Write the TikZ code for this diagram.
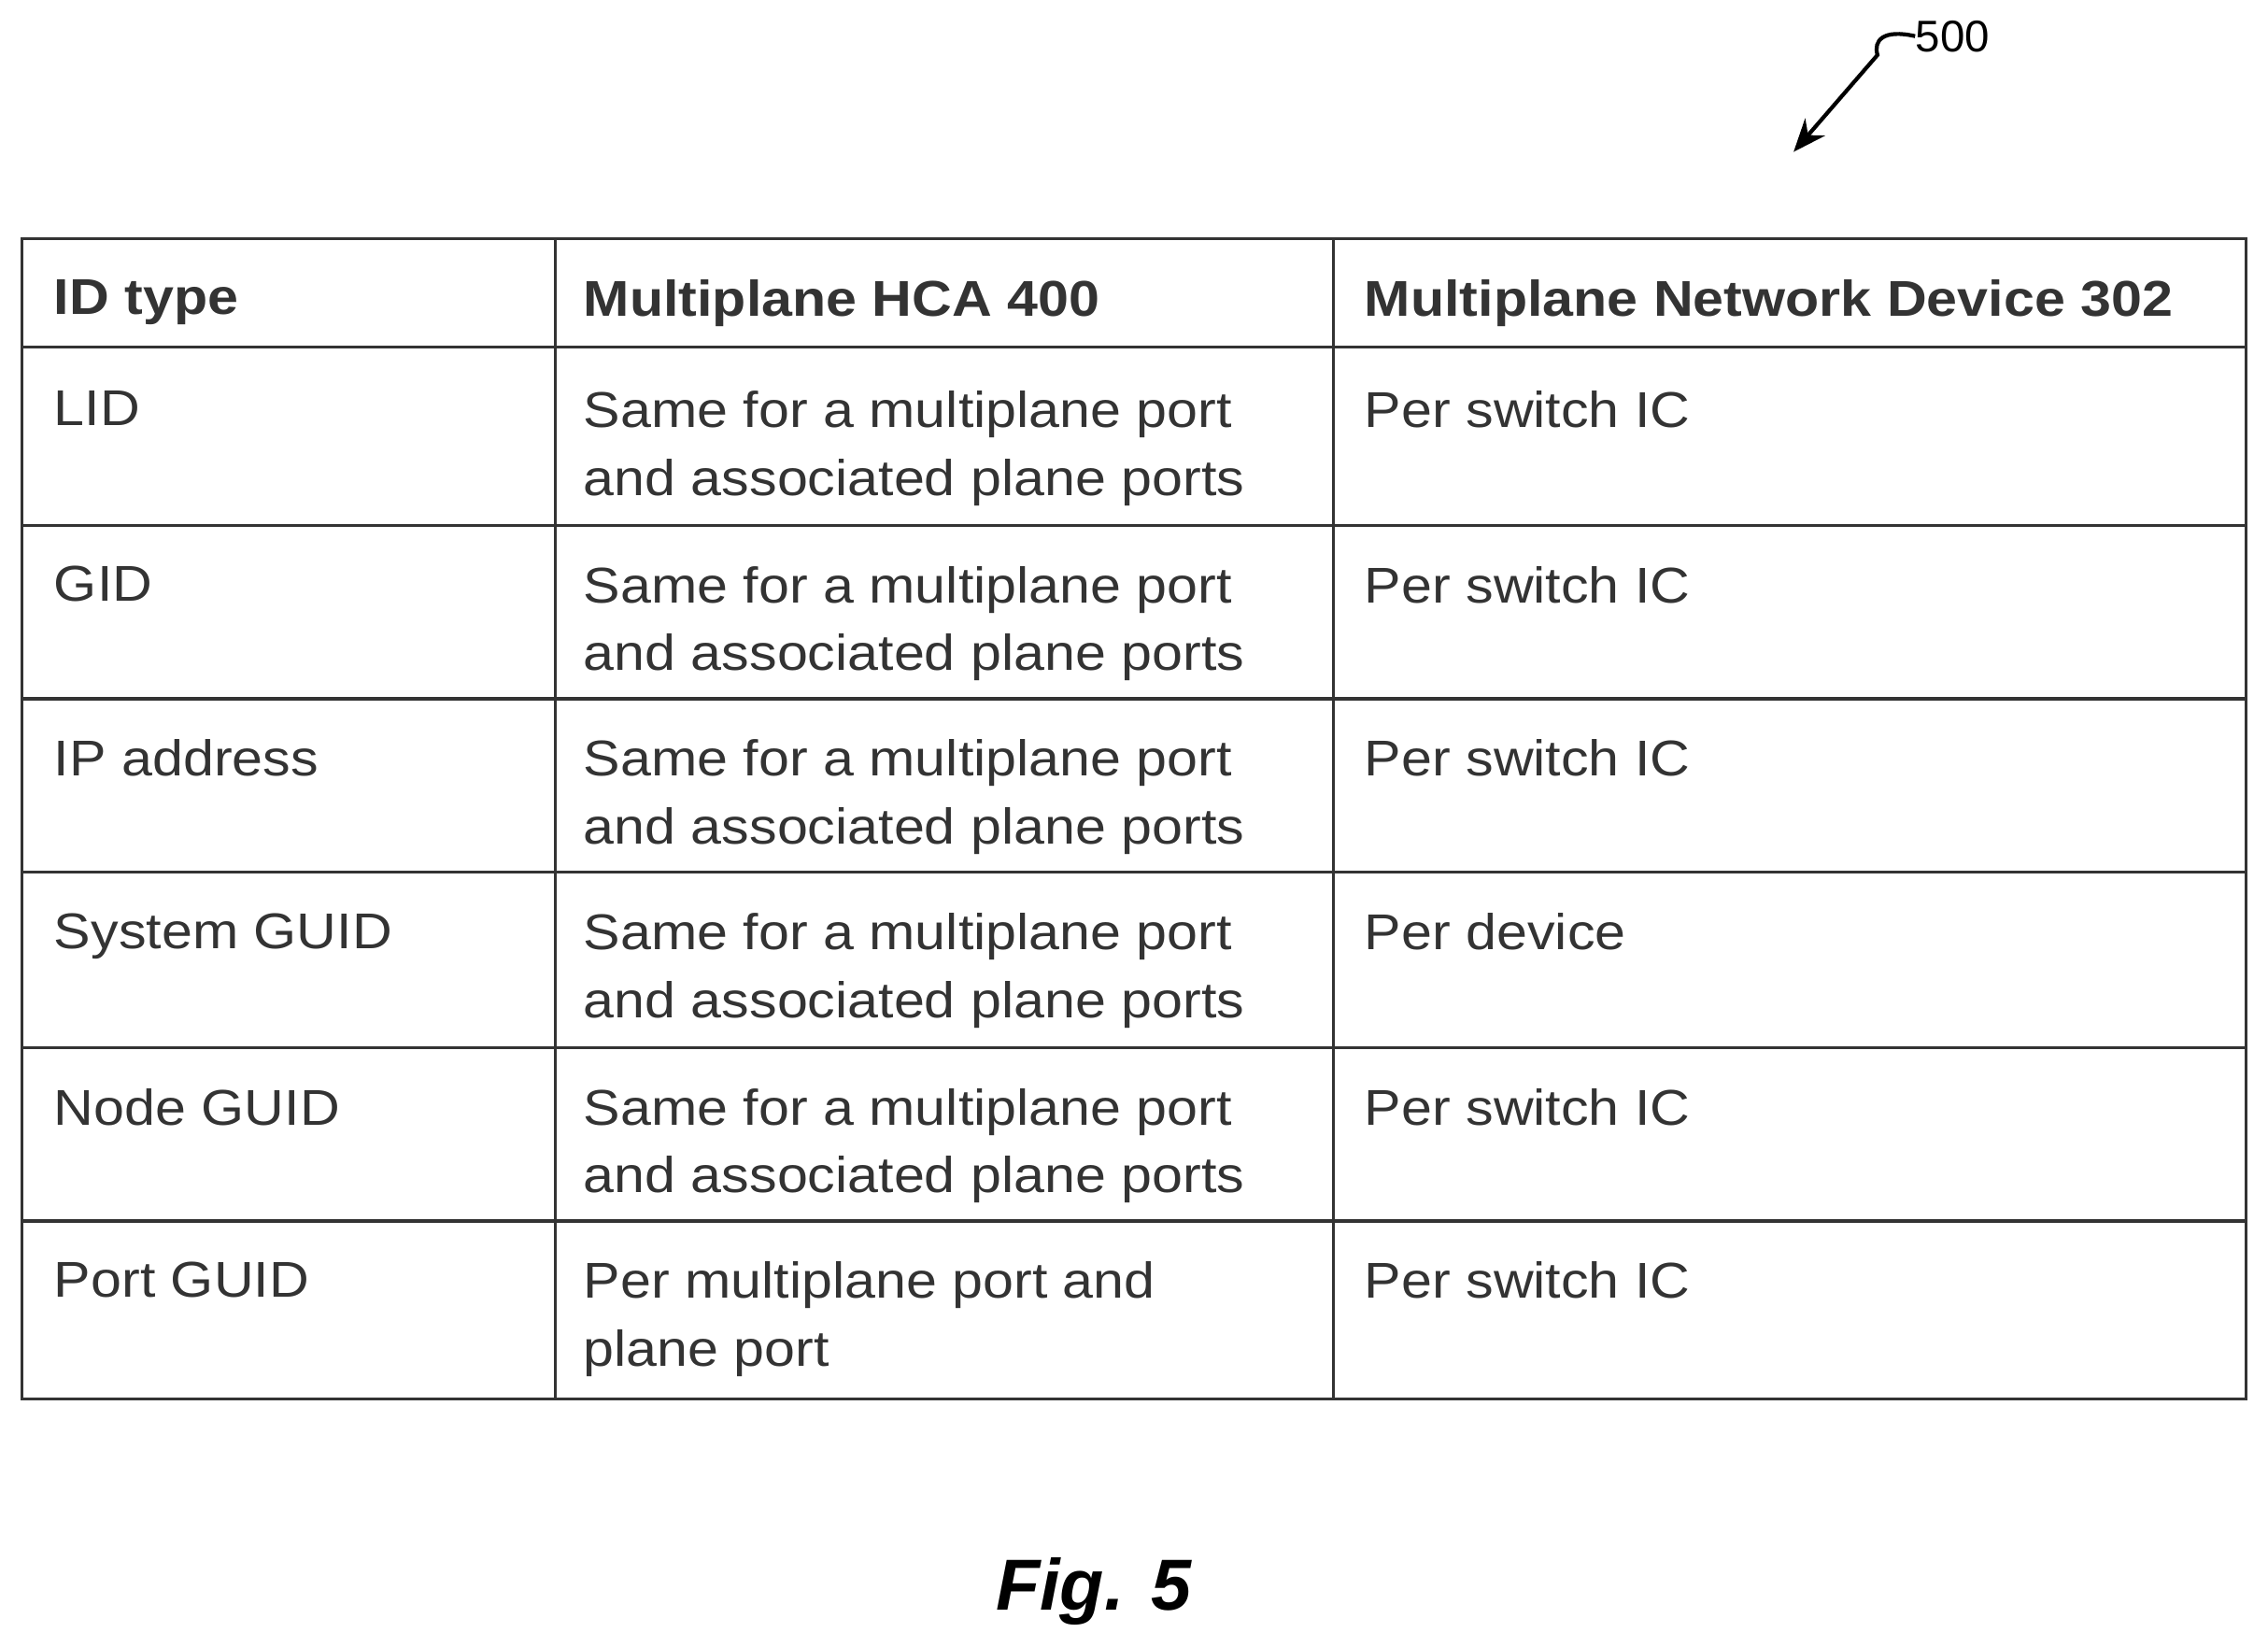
\documentclass[tikz,border=0pt]{standalone}
\usepackage{fontspec}
\setmainfont{Liberation Sans}
\newfontfamily\widefont[FakeStretch=1.1]{Liberation Sans}
\usetikzlibrary{arrows.meta}
\begin{document}
\begin{tikzpicture}[
  x=0.01548cm, y=-0.01548cm,
  cell/.style={anchor=north west,inner sep=0pt,align=left,
    font=\widefont\fontsize{15.3}{20.7}\selectfont,text=black!80},
  head/.style={cell,font=\widefont\fontsize{15.3}{20.7}\selectfont\bfseries},
  grid/.style={line width=0.9pt,black!80}
  ]
\useasboundingbox (0,0) rectangle (1568,1138);
\def\same{Same for a multiplane port\\and associated plane ports}
% table frame
\draw[grid] (15,165) rectangle (1553,967);
\foreach \yy in {240,363,483,603,724,844}
  \draw[grid] (15,\yy) -- (1553,\yy);
\draw[grid] (384,165) -- (384,967);
\draw[grid] (922,165) -- (922,967);
% header
\node[head] (h1) at (37,193) {ID type};
\node[head] (h2) at (403,193) {Multiplane HCA 400};
\node[head] (h3) at (943,193) {Multiplane Network Device 302};
% rows
\foreach \yy/\ida/\idb/\idc in {
    270/LID/\same/Per switch IC,
    391/GID/\same/Per switch IC,
    511/IP address/\same/Per switch IC,
    631/System GUID/\same/Per device,
    752/Node GUID/\same/Per switch IC,
    872/Port GUID/{Per multiplane port and\\plane port}/Per switch IC}{
  \node[cell] at (37,\yy) {\ida};
  \node[cell] at (403,\yy) {\idb};
  \node[cell] at (943,\yy) {\idc};
}
% reference numeral
\node[anchor=west,inner sep=0pt,font=\fontsize{13.5}{15}\selectfont] (ref) at (1324,25) {500};
\coordinate (tip) at (1240,105);
\draw[line width=1.2pt,-{Stealth[length=10pt,width=8pt]}] (ref.west) .. controls (1302,20) and (1295,28) .. (1298,38) -- (tip);
% caption
\node[font=\fontsize{22}{26}\selectfont\bfseries\itshape] (fig) at (756,1100) {Fig. 5};
\end{tikzpicture}
\end{document}
